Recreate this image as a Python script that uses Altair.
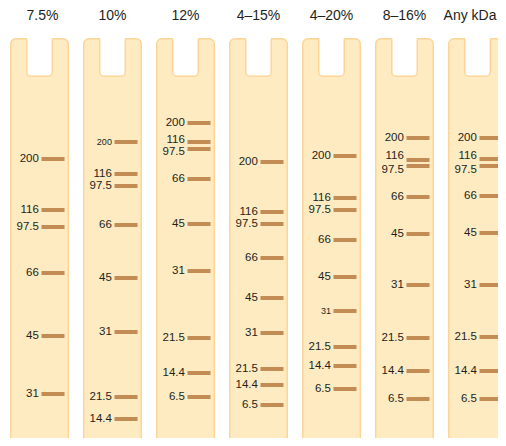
import altair as alt
import pandas as pd

# ---- data -------------------------------------------------------------
lanes = ["7.5%", "10%", "12%", "4–15%", "4–20%", "8–16%", "Any kDa"]

marker_labels = [
    ["200", "116", "97.5", "66", "45", "31"],
    ["200", "116", "97.5", "66", "45", "31", "21.5", "14.4"],
    ["200", "116", "97.5", "66", "45", "31", "21.5", "14.4", "6.5"],
    ["200", "116", "97.5", "66", "45", "31", "21.5", "14.4", "6.5"],
    ["200", "116", "97.5", "66", "45", "31", "21.5", "14.4", "6.5"],
    ["200", "116", "97.5", "66", "45", "31", "21.5", "14.4", "6.5"],
    ["200", "116", "97.5", "66", "45", "31", "21.5", "14.4", "6.5"],
]
# migration distance of each band (same units as the gel drawing)
migration = [
    [159, 210, 227, 273, 336, 394],
    [142, 174, 186, 225, 278, 332, 397, 419],
    [123, 142, 149, 179, 224, 271, 338, 373, 397],
    [162, 212, 224, 258, 298, 333, 369, 385, 405],
    [156, 198, 210, 240, 277, 311, 347, 366, 389],
    [138, 160, 166, 197, 234, 285, 338, 371, 399],
    [138, 159, 166, 196, 233, 285, 337, 371, 399],
]
# label nudges where bands are close together
label_shift = [
    [0, 0, 0, 0, 0, 0],
    [0, 0, 0, 0, 0, 0, 0, 0],
    [0, -2, 3, 0, 0, 0, 0, 0, 0],
    [0, 0, 0, 0, 0, 0, 0, 0, 0],
    [0, 0, 0, 0, 0, 0, 0, 0, 0],
    [0, -4, 4, 0, 0, 0, 0, 0, 0],
    [0, -3, 4, 0, 0, 0, 0, 0, 0],
]
small_labels = [(1, "200"), (4, "31")]

# ---- tables -------------------------------------------------------------
lanes_df = pd.DataFrame({"i": list(range(len(lanes))), "lane": lanes})
rows = []
for i, (labs, ys, sh) in enumerate(zip(marker_labels, migration, label_shift)):
    for lab, y, s in zip(labs, ys, sh):
        rows.append({"i": i, "label": lab, "y": y, "ly": y + s,
                     "fs": 9 if (i, lab) in small_labels else 11.5})
bands_df = pd.DataFrame(rows)

# ---- style --------------------------------------------------------------
FILL = "#FEEBC1"
EDGE = "#FDD598"
BAND = "#C48C55"
TXT = "#231F20"
FONT = "Liberation Sans"
U = 73.0  # px per lane
W, H = 506, 446

xs = alt.Scale(domain=[-39.5 / U, (W - 39.5) / U], nice=False, zero=False)
ys = alt.Scale(domain=[0, H], nice=False, zero=False, reverse=True)


def X(f):
    return alt.X(f, type="quantitative", scale=xs, axis=None)


def Y(f):
    return alt.Y(f, type="quantitative", scale=ys, axis=None)


base = alt.Chart(lanes_df)

lane_rect = base.transform_calculate(
    x0=f"datum.i - {28.75 / U}", x1=f"datum.i + {28.75 / U}", yt="38.75", yb="444.25"
).mark_rect(fill=FILL, stroke=EDGE, strokeWidth=1.5, cornerRadius=5).encode(
    x=X("x0"), x2="x1", y=Y("yt"), y2="yb"
)

notch = base.transform_calculate(
    x0=f"datum.i - {12.75 / U}", x1=f"datum.i + {12.75 / U}", yt="20", yb="76.25"
).mark_rect(fill="white", stroke=EDGE, strokeWidth=1.5, cornerRadius=4).encode(
    x=X("x0"), x2="x1", y=Y("yt"), y2="yb"
)

cover_a = base.transform_calculate(
    x0=f"datum.i - {14.6 / U}", x1=f"datum.i + {14.6 / U}", yt="18", yb="38"
).mark_rect(fill="white", strokeWidth=0).encode(
    x=X("x0"), x2="x1", y=Y("yt"), y2="yb"
)

cover_b = base.transform_calculate(
    x0=f"datum.i - {12.0 / U}", x1=f"datum.i + {12.0 / U}", yt="18", yb="39.7"
).mark_rect(fill="white", strokeWidth=0).encode(
    x=X("x0"), x2="x1", y=Y("yt"), y2="yb"
)

titles = base.transform_calculate(
    ty="16",
    tx=f"datum.i == 0 ? datum.i + {3 / U} : (datum.i == 6 ? datum.i - {7.5 / U} : datum.i)",
).mark_text(
    fontSize=14, font=FONT, color=TXT, align="center", baseline="middle"
).encode(x=X("tx"), y=Y("ty"), text="lane:N")

bb = alt.Chart(bands_df)
bands = bb.transform_calculate(
    x0=f"datum.i + {2.0 / U}", x1=f"datum.i + {25.0 / U}"
).mark_rule(color=BAND, strokeWidth=4, strokeCap="butt").encode(
    x=X("x0"), x2="x1", y=Y("y")
)

labels = bb.transform_calculate(
    lx=f"datum.i - {0.6 / U}"
).mark_text(font=FONT, color=TXT, align="right", baseline="middle").encode(
    x=X("lx"), y=Y("ly"), text="label:N", size=alt.Size("fs:Q", scale=None, legend=None)
)

chart = alt.layer(
    lane_rect, notch, cover_a, cover_b, bands, labels, titles
).properties(
    width=W, height=H, autosize=alt.AutoSizeParams(type="none"),
    padding={"left": -8, "top": -8, "right": -8, "bottom": -8},
    background="white"
).configure_view(stroke=None)

chart.save("out.html", embed_options={"renderer": "svg", "actions": False})
